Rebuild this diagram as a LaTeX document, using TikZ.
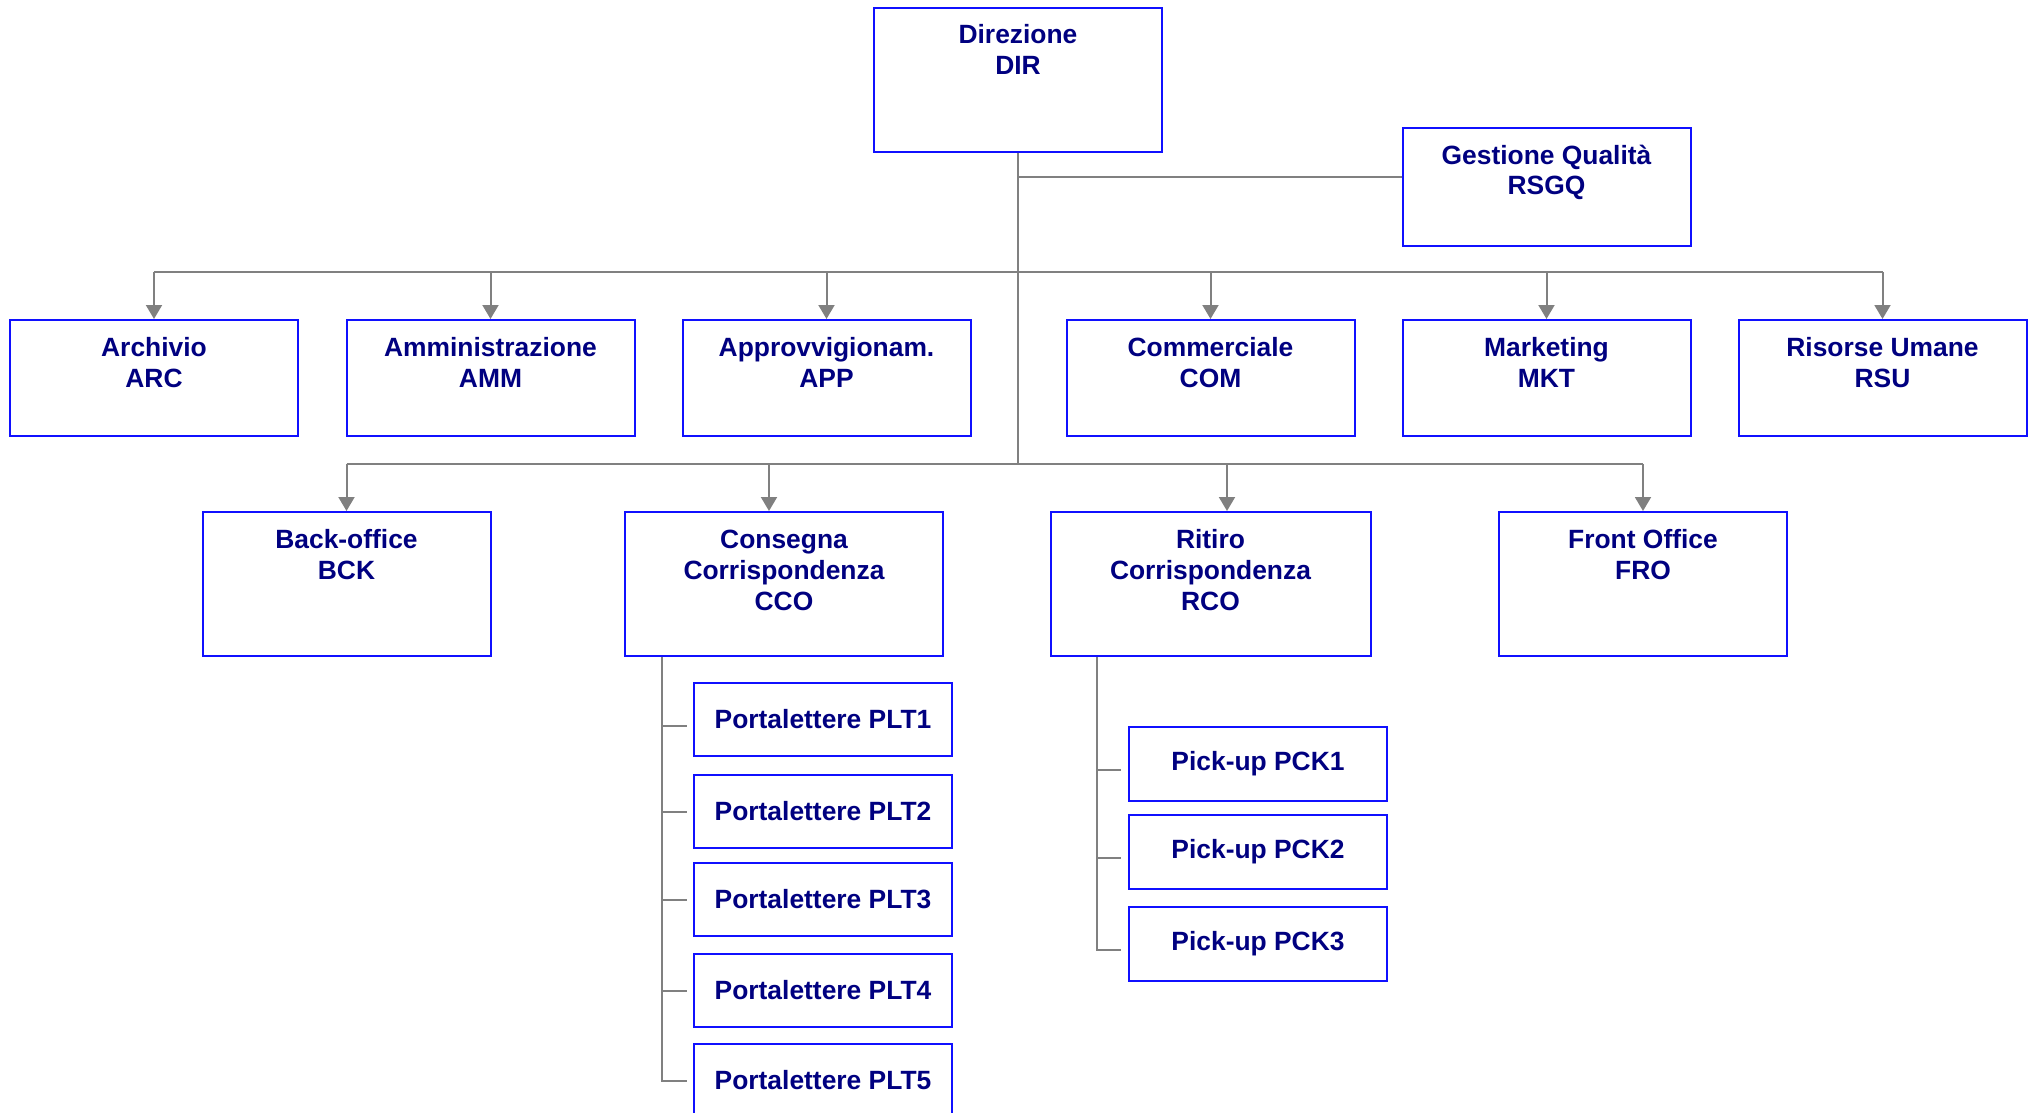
\documentclass[tikz,border=0pt]{standalone}
\usepackage{fontspec}
\setmainfont{Liberation Sans}
\usetikzlibrary{arrows.meta}
\definecolor{boxblue}{RGB}{16,16,255}
\definecolor{navy}{RGB}{0,0,128}
\definecolor{linegray}{RGB}{128,128,128}
\newcommand{\unittext}[3]{\parbox[c][#2][t]{#1}{\centering\rule{0pt}{18pt}#3}}
\begin{document}
\begin{tikzpicture}[x=0.5pt,y=-0.5pt,
  unit/.style={draw=boxblue,line width=1pt,inner sep=0pt,text=navy,
    font=\fontsize{13.2}{15.5}\selectfont\bfseries},
  sub/.style={unit,minimum width=129pt,minimum height=36.5pt},
  conn/.style={draw=linegray,line width=1pt},
  arr/.style={conn,-{Triangle[length=7pt,width=8pt]}}]
\useasboundingbox (0,0) rectangle (2031,1113);
% vertice
\node[unit] (dir) at (1018,80) {\unittext{144pt}{72pt}{Direzione\\DIR}};
\node[unit] (rsgq) at (1546.5,187) {\unittext{144pt}{59pt}{Gestione Qualità\\RSGQ}};
% primo livello
\node[unit] (arc) at (154,378) {\unittext{144pt}{58pt}{Archivio\\ARC}};
\node[unit] (amm) at (490.5,378) {\unittext{144pt}{58pt}{Amministrazione\\AMM}};
\node[unit] (app) at (826.5,378) {\unittext{144pt}{58pt}{Approvvigionam.\\APP}};
\node[unit] (com) at (1210.5,378) {\unittext{144pt}{58pt}{Commerciale\\COM}};
\node[unit] (mkt) at (1546.5,378) {\unittext{144pt}{58pt}{Marketing\\MKT}};
\node[unit] (rsu) at (1882.5,378) {\unittext{144pt}{58pt}{Risorse Umane\\RSU}};
% secondo livello
\node[unit] (bck) at (346.5,584) {\unittext{144pt}{72pt}{Back-office\\BCK}};
\node[unit] (cco) at (784,584) {\unittext{159pt}{72pt}{Consegna\\Corrispondenza\\CCO}};
\node[unit] (rco) at (1210.5,584) {\unittext{160pt}{72pt}{Ritiro\\Corrispondenza\\RCO}};
\node[unit] (fro) at (1643,584) {\unittext{144pt}{72pt}{Front Office\\FRO}};
% portalettere
\node[sub] (plt1) at (823,719.5) {Portalettere PLT1};
\node[sub] (plt2) at (823,811.5) {Portalettere PLT2};
\node[sub] (plt3) at (823,899.5) {Portalettere PLT3};
\node[sub] (plt4) at (823,990.5) {Portalettere PLT4};
\node[sub] (plt5) at (823,1080.5) {Portalettere PLT5};
% pick-up
\node[sub,minimum height=37pt] (pck1) at (1258,763.5) {Pick-up PCK1};
\node[sub,minimum height=37pt] (pck2) at (1258,852) {Pick-up PCK2};
\node[sub,minimum height=37pt] (pck3) at (1258,943.5) {Pick-up PCK3};
% collegamenti
\coordinate (q) at (1018,177);
\coordinate (b1) at (1018,272);
\coordinate (b2) at (1018,464);
\draw[conn] (dir.south) -- (b2);
\draw[conn] (q) -- (q -| rsgq.west);
\draw[conn] (b1 -| arc) -- (b1 -| rsu);
\draw[arr] (b1 -| arc) -- (arc.north);
\draw[arr] (b1 -| amm) -- (amm.north);
\draw[arr] (b1 -| app) -- (app.north);
\draw[arr] (b1 -| com) -- (com.north);
\draw[arr] (b1 -| mkt) -- (mkt.north);
\draw[arr] (b1 -| rsu) -- (rsu.north);
\draw[conn] (b2 -| bck) -- (b2 -| fro);
\coordinate (c1) at ([xshift=-7.5pt]cco.north);
\coordinate (r1) at ([xshift=8.25pt]rco.north);
\draw[arr] (b2 -| bck) -- (bck.north);
\draw[arr] (b2 -| c1) -- (c1);
\draw[arr] (b2 -| r1) -- (r1);
\draw[arr] (b2 -| fro) -- (fro.north);
% sotto CCO
\coordinate (ct) at ([xshift=19pt]cco.south west);
\draw[conn] (ct) |- ([xshift=-3pt]plt5.west);
\draw[conn] (ct |- plt1) ++(0,6) -- ([xshift=-3pt,yshift=-3pt]plt1.west);
\draw[conn] (ct |- plt2) -- ([xshift=-3pt]plt2.west);
\draw[conn] (ct |- plt3) -- ([xshift=-3pt]plt3.west);
\draw[conn] (ct |- plt4) -- ([xshift=-3pt]plt4.west);
% sotto RCO
\coordinate (rt) at ([xshift=23.5pt]rco.south west);
\draw[conn] (rt) |- ([xshift=-3.5pt,yshift=-3pt]pck3.west);
\draw[conn] (rt |- pck1) ++(0,6) -- ([xshift=-3.5pt,yshift=-3pt]pck1.west);
\draw[conn] (rt |- pck2) ++(0,6) -- ([xshift=-3.5pt,yshift=-3pt]pck2.west);
\end{tikzpicture}
\end{document}
